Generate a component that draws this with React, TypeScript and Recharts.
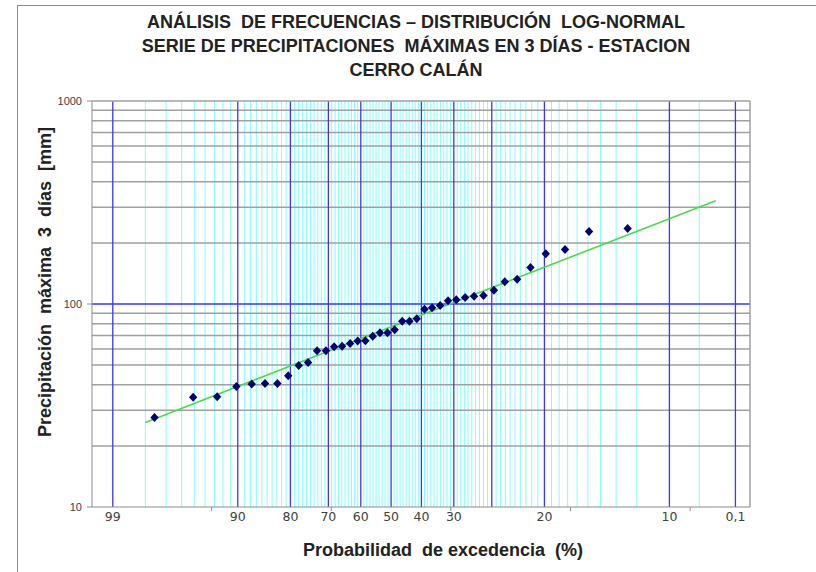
import { ComposedChart, Scatter, Line, XAxis, YAxis, ReferenceLine } from "recharts"

// exceedance probability (%) of each ranked value, left to right
const exceedance = [
  97.6, 95.1, 92.7, 90.2, 87.8, 85.4, 82.9, 80.5, 78.0, 75.6,
  73.2, 70.7, 68.3, 65.9, 63.4, 61.0, 58.5, 56.1, 53.7, 51.2,
  48.8, 46.3, 43.9, 41.5, 39.0, 36.6, 34.1, 31.7, 29.3, 26.8,
  24.4, 22.0, 19.5, 17.1, 14.6, 12.2, 9.8, 7.3, 4.9, 2.4,
]
// max 3-day precipitation (mm)
const precipitation = [
  27.6, 34.7, 34.9, 39.2, 40.4, 40.6, 40.6, 44.3, 49.8, 51.5,
  58.9, 58.8, 61.6, 62.0, 63.9, 65.7, 65.9, 69.3, 72.2, 72.1,
  74.6, 82.3, 82.2, 84.6, 94.2, 95.9, 98.3, 103.7, 104.9, 107.6,
  109.2, 110.1, 116.9, 128.6, 132.5, 151.2, 176.7, 185.4, 227.5, 235.4,
]

// fitted log-normal line (end points)
const fitExceedance = [98, 0.333]
const fitPrecipitation = [26.1, 323]

const xLabelProbs = [99, 90, 80, 70, 60, 50, 40, 30, 10, 1, 0.2]
const xLabels = ["99", "90", "80", "70", "60", "50", "40", "30", "20", "10", "0,1"]
const majorProbs = [99, 90, 80, 70, 60, 50, 40, 30, 20, 10, 1, 0.2]
const minorProbs = [0.5, ...Array.from({ length: 98 }, (_, i) => i + 1)].filter(
  (p) => !majorProbs.includes(p)
)
const axisMarks = [-1.5, -0.5, 0.5, 1.5, 2.5]
const yTicks = [10, 100, 1000]
const yMinor = [20, 30, 40, 50, 60, 70, 80, 90, 200, 300, 400, 500, 600, 700, 800, 900]

const Z_MIN = -2.5
const Z_MAX = 3.0

// inverse standard normal CDF (Acklam)
const invNorm = (p: number) => {
  const a = [-39.69683028665376, 220.9460984245205, -275.9285104469687, 138.357751867269, -30.66479806614716, 2.506628277459239]
  const b = [-54.47609879822406, 161.5858368580409, -155.6989798598866, 66.80131188771972, -13.28068155288572]
  const c = [-0.007784894002430293, -0.3223964580411365, -2.400758277161838, -2.549732539343734, 4.374664141464968, 2.938163982698783]
  const d = [0.007784695709041462, 0.3224671290700398, 2.445134137142996, 3.754408661907416]
  const plow = 0.02425
  if (p < plow) {
    const q = Math.sqrt(-2 * Math.log(p))
    return (((((c[0] * q + c[1]) * q + c[2]) * q + c[3]) * q + c[4]) * q + c[5]) /
      ((((d[0] * q + d[1]) * q + d[2]) * q + d[3]) * q + 1)
  }
  if (p > 1 - plow) {
    const q = Math.sqrt(-2 * Math.log(1 - p))
    return -(((((c[0] * q + c[1]) * q + c[2]) * q + c[3]) * q + c[4]) * q + c[5]) /
      ((((d[0] * q + d[1]) * q + d[2]) * q + d[3]) * q + 1)
  }
  const q = p - 0.5
  const r = q * q
  return (((((a[0] * r + a[1]) * r + a[2]) * r + a[3]) * r + a[4]) * r + a[5]) * q /
    (((((b[0] * r + b[1]) * r + b[2]) * r + b[3]) * r + b[4]) * r + 1)
}

const toZ = (p: number) => invNorm(1 - p / 100)

const points = exceedance.map((p, i) => ({ z: toZ(p), mm: precipitation[i] }))
const fitLine = fitExceedance.map((p, i) => ({ z: toZ(p), mm: fitPrecipitation[i] }))
const xTicks = xLabelProbs.map(toZ)

const Diamond = (props: any) => {
  const { cx, cy } = props
  if (cx == null || cy == null) return null
  return (
    <polygon
      points={`${cx},${cy - 4.5} ${cx + 4.2},${cy} ${cx},${cy + 4.5} ${cx - 4.2},${cy}`}
      fill="#00006e"
    />
  )
}

const titleStyle: React.CSSProperties = {
  position: "absolute",
  left: 0,
  width: 832,
  textAlign: "center",
  fontFamily: "'Liberation Sans', Arial, sans-serif",
  fontWeight: "bold",
  fontSize: 18,
  color: "#222",
  whiteSpace: "pre",
  lineHeight: "24px",
}

export default function App() {
  return (
    <div
      style={{
        position: "absolute",
        left: 0,
        top: 0,
        width: 816,
        height: 572,
        background: "#fff",
        overflow: "hidden",
      }}
    >
      {/* outer frame */}
      <div
        style={{
          position: "absolute",
          left: 17,
          top: 5,
          width: 900,
          height: 700,
          borderLeft: "1px solid #8c8c8c",
          borderTop: "1px solid #8c8c8c",
        }}
      />

      <ComposedChart
        width={816}
        height={572}
        margin={{ top: 101, right: 66, bottom: 0, left: 0 }}
        style={{ position: "absolute", left: 0, top: 0 }}
      >
        <XAxis
          type="number"
          dataKey="z"
          domain={[Z_MIN, Z_MAX]}
          allowDataOverflow
          ticks={xTicks}
          interval={0}
          tickFormatter={(_v: number, i: number) => xLabels[i]}
          tickLine={false}
          tickSize={0}
          tickMargin={5}
          height={65}
          axisLine={{ stroke: "#8c8c8c" }}
          tick={{ fontFamily: "'DejaVu Sans', sans-serif", fontSize: 12.5, fill: "#404040" }}
        />
        <YAxis
          type="number"
          dataKey="mm"
          scale="log"
          domain={[10, 1000]}
          allowDataOverflow
          ticks={yTicks}
          interval={0}
          width={92}
          tickSize={5}
          tickMargin={5}
          axisLine={{ stroke: "#8c8c8c" }}
          tickLine={{ stroke: "#8c8c8c" }}
          tick={{ fontFamily: "'Liberation Sans', Arial, sans-serif", fontSize: 11, fill: "#404040" }}
        />

        {minorProbs.map((p) => (
          <ReferenceLine key={`mi${p}`} x={toZ(p)} stroke="#80ffff" strokeWidth={1} />
        ))}
        {yMinor.map((v) => (
          <ReferenceLine key={`h${v}`} y={v} stroke="#a0a0a0" strokeWidth={1.5} />
        ))}
        {majorProbs.map((p) => (
          <ReferenceLine key={`ma${p}`} x={toZ(p)} stroke="#3636ff" strokeWidth={1.3} />
        ))}
        <ReferenceLine y={100} stroke="#3636ff" strokeWidth={1.3} />
        <ReferenceLine y={1000} stroke="#a0a0a0" strokeWidth={1.5} />
        <ReferenceLine x={Z_MAX} stroke="#a0a0a0" strokeWidth={1.5} />
        {axisMarks.map((z) => (
          <ReferenceLine
            key={`t${z}`}
            segment={[{ x: z, y: 10 }, { x: z, y: 9.55 }]}
            stroke="#8c8c8c"
            ifOverflow="visible"
          />
        ))}

        <Line
          data={fitLine}
          dataKey="mm"
          type="linear"
          stroke="#4cd94c"
          strokeWidth={1.6}
          dot={false}
          activeDot={false}
          isAnimationActive={false}
        />
        <Scatter data={points} dataKey="mm" shape={Diamond} isAnimationActive={false} />
      </ComposedChart>

      <div style={{ ...titleStyle, top: 10 }}>
        {"ANÁLISIS  DE FRECUENCIAS – DISTRIBUCIÓN  LOG-NORMAL\nSERIE DE PRECIPITACIONES  MÁXIMAS EN 3 DÍAS - ESTACION\nCERRO CALÁN"}
      </div>

      <div
        style={{
          position: "absolute",
          left: 243,
          width: 400,
          top: 540,
          textAlign: "center",
          fontFamily: "'Liberation Sans', Arial, sans-serif",
          fontWeight: "bold",
          fontSize: 18,
          color: "#222",
          whiteSpace: "pre",
        }}
      >
        {"Probabilidad  de excedencia  (%)"}
      </div>

      <div
        style={{
          position: "absolute",
          left: 45,
          top: 282,
          transform: "translate(-50%, -50%) rotate(-90deg)",
          fontFamily: "'Liberation Sans', Arial, sans-serif",
          fontWeight: "bold",
          fontSize: 18,
          color: "#222",
          whiteSpace: "pre",
        }}
      >
        {"Precipitación  máxima  3  días  [mm]"}
      </div>
    </div>
  )
}
